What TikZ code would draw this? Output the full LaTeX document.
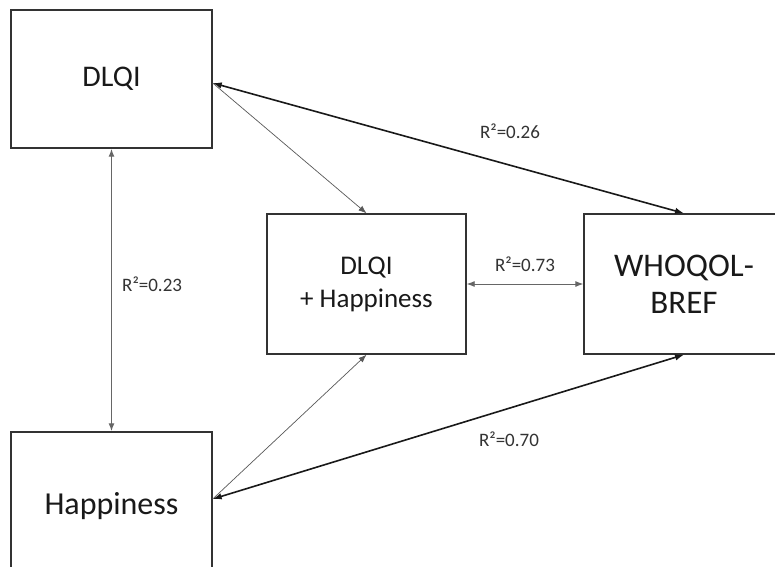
\documentclass[tikz,border=0pt]{standalone}
\usepackage{fontspec}
\setmainfont{Carlito}
\usetikzlibrary{arrows.meta}
\begin{document}
\begin{tikzpicture}[x=1pt,y=-1pt,
  box/.style={draw=black!80,line width=1.4pt,fill=white,inner sep=0pt,align=center,text=black!90},
  thick arr/.style={line width=1.6pt,draw=black!90,{Latex[length=9pt,width=6.5pt]}-{Latex[length=9pt,width=6.5pt]}},
  thin arr/.style={line width=0.7pt,draw=black!65,-{Latex[length=8pt,width=6pt]}},
  mid arr/.style={line width=0.9pt,draw=black!60,{Latex[length=8pt,width=6pt]}-{Latex[length=8pt,width=6pt]}},
  lbl/.style={font=\fontsize{19}{22}\selectfont,text=black!80,inner sep=1pt}]
\useasboundingbox (0,0) rectangle (775,566);
\clip (0,0) rectangle (775,566);
\fill[white] (0,0) rectangle (775,566);
\node[box,minimum width=201pt,minimum height=138pt,font=\fontsize{30}{34}\selectfont] (dlqi) at (111.5,79) {DLQI};
\node[box,minimum width=201pt,minimum height=148pt,font=\fontsize{32}{36}\selectfont] (hap) at (111.5,506) {Happiness};
\node[box,minimum width=199pt,minimum height=140pt,font=\fontsize{27}{33}\selectfont] (mid) at (366.5,284) {DLQI\\+ Happiness};
\node[box,minimum width=200pt,minimum height=140pt,font=\fontsize{33}{37}\selectfont] (who) at (684,284) {WHOQOL-\\BREF};
\coordinate (dE) at ([yshift=-4pt]dlqi.east);
\coordinate (hE) at ([yshift=7pt]hap.east);
\draw[thick arr] (dE) -- (who.north);
\draw[thin arr] (dE) -- (mid.north);
\draw[thick arr] (hE) -- (who.south);
\draw[thin arr] (hE) -- (mid.south);
\draw[mid arr] (mid.east) -- (who.west);
\draw[mid arr,line width=1.3pt] (dlqi.south) -- (hap.north);
\node[lbl,anchor=west] (l23) at (121,284) {R²=0.23};
\node[lbl] (l26) at (510,131) {R²=0.26};
\node[lbl] (l73) at (525,264) {R²=0.73};
\node[lbl] (l70) at (509,439) {R²=0.70};
\end{tikzpicture}
\end{document}
